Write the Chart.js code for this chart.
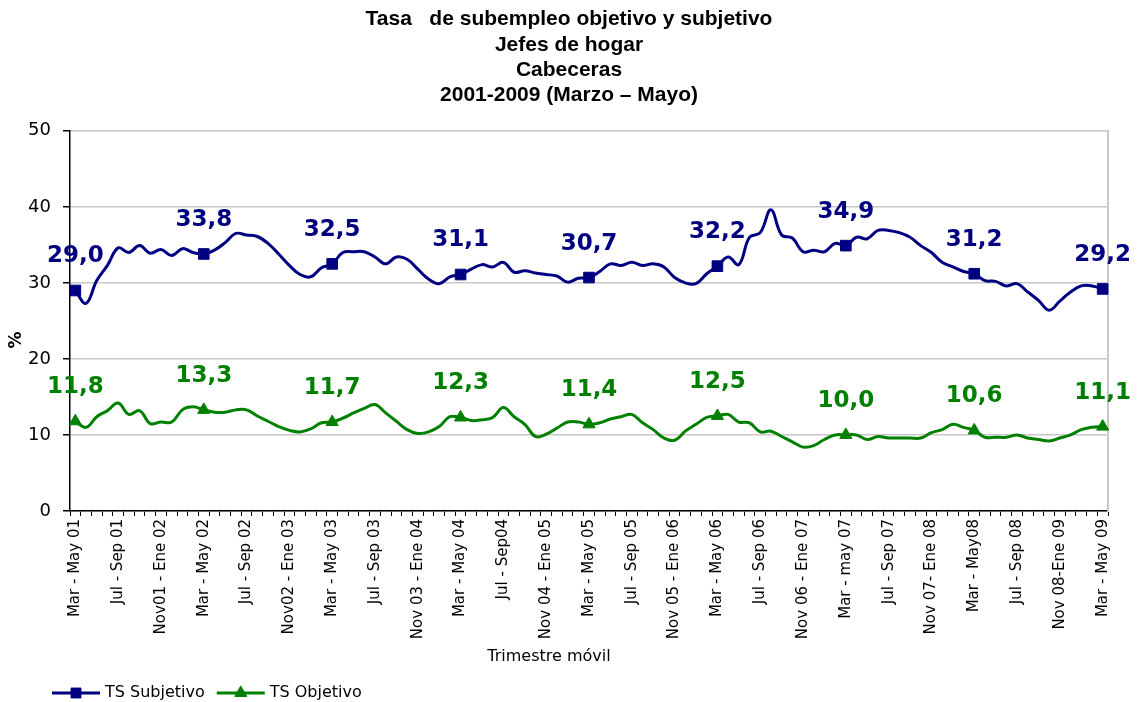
<!DOCTYPE html>
<html>
<head>
<meta charset="utf-8">
<script src="https://cdn.jsdelivr.net/npm/chart.js@4.4.1/dist/chart.umd.min.js"></script>
<style>
  html, body { margin: 0; padding: 0; background: #fff; }
</style>
</head>
<body>
<canvas id="grafico" width="1138" height="702"></canvas>
<script>
// etiquetas visibles del eje X (una cada 4 trimestres móviles)
var tickLabels = [
  'Mar - May 01', 'Jul - Sep 01', 'Nov01 - Ene 02',
  'Mar - May 02', 'Jul - Sep 02', 'Nov02 - Ene 03',
  'Mar - May 03', 'Jul - Sep 03', 'Nov 03 - Ene 04',
  'Mar - May 04', 'Jul - Sep04', 'Nov 04 - Ene 05',
  'Mar - May 05', 'Jul - Sep 05', 'Nov 05 - Ene 06',
  'Mar - May 06', 'Jul - Sep 06', 'Nov 06 - Ene 07',
  'Mar - may 07', 'Jul - Sep 07', 'Nov 07- Ene 08',
  'Mar - May08', 'Jul - Sep 08', 'Nov 08-Ene 09',
  'Mar - May 09'
];

// meses para nombrar los trimestres móviles intermedios
var meses = ['Ene', 'Feb', 'Mar', 'Abr', 'May', 'Jun', 'Jul', 'Ago', 'Sep', 'Oct', 'Nov', 'Dic'];

// TS Subjetivo (%), Mar-May 01 ... Mar-May 09
var subjetivo = [
  29.0, 27.3, 30.3, 32.3, 34.6, 34.0, 34.9, 33.9, 34.4, 33.6, 34.5, 34.0,
  33.8, 34.3, 35.3, 36.5, 36.3, 36.1, 35.2, 33.8, 32.3, 31.1, 30.8, 32.0,
  32.5, 34.0, 34.1, 34.1, 33.4, 32.5, 33.4, 33.1, 31.8, 30.5, 29.9, 30.8,
  31.1, 31.8, 32.4, 32.1, 32.7, 31.4, 31.6, 31.3, 31.1, 30.9, 30.1, 30.6,
  30.7, 31.5, 32.5, 32.3, 32.7, 32.3, 32.5, 32.1, 30.7, 30.0, 29.9, 31.2,
  32.2, 33.4, 32.4, 36.0, 36.6, 39.6, 36.3, 35.9, 34.1, 34.3, 34.1, 35.2,
  34.9, 36.0, 35.8, 36.9, 36.9, 36.6, 36.0, 34.9, 34.0, 32.7, 32.1, 31.5,
  31.2, 30.3, 30.2, 29.6, 29.9, 28.8, 27.7, 26.4, 27.6, 28.8, 29.6, 29.6,
  29.2
];

// TS Objetivo (%)
var objetivo = [
  11.8, 11.0, 12.4, 13.2, 14.2, 12.7, 13.2, 11.5, 11.7, 11.7, 13.3, 13.7,
  13.3, 13.0, 13.0, 13.3, 13.3, 12.5, 11.8, 11.1, 10.6, 10.4, 10.8, 11.6,
  11.7, 12.2, 12.9, 13.5, 14.0, 12.9, 11.8, 10.7, 10.2, 10.4, 11.1, 12.4,
  12.3, 11.9, 12.0, 12.3, 13.6, 12.4, 11.4, 9.8, 10.1, 10.9, 11.7, 11.7,
  11.4, 11.6, 12.1, 12.4, 12.7, 11.6, 10.7, 9.6, 9.3, 10.5, 11.4, 12.3,
  12.5, 12.7, 11.7, 11.6, 10.4, 10.5, 9.8, 9.1, 8.4, 8.6, 9.4, 10.0,
  10.0, 10.0, 9.4, 9.8, 9.6, 9.6, 9.6, 9.6, 10.3, 10.7, 11.4, 11.0,
  10.6, 9.7, 9.7, 9.7, 10.0, 9.6, 9.4, 9.2, 9.6, 10.0, 10.7, 11.0,
  11.1
];

// nombres de todos los trimestres móviles
var categorias = [];
for (var i = 0; i < subjetivo.length; i++) {
  if (i % 4 === 0) {
    categorias.push(tickLabels[i / 4]);
  } else {
    var m = (2 + i) % 12;
    var anio = Math.floor((2 + i + 2) / 12) + 1;
    categorias.push(meses[m] + ' - ' + meses[(m + 2) % 12] + ' ' + String(anio).padStart(2, '0'));
  }
}

var AZUL = '#000080';
var VERDE = '#008000';

// solo los trimestres Mar-May llevan marcador y etiqueta
function esMarzoMayo(i) { return i % 12 === 0; }

var etiquetasPlugin = {
  id: 'etiquetas',
  afterDatasetsDraw: function (chart) {
    var ctx = chart.ctx;
    ctx.save();
    ctx.font = 'bold 23px "DejaVu Sans"';
    ctx.textAlign = 'center';
    ctx.textBaseline = 'middle';
    chart.data.datasets.forEach(function (ds, di) {
      var meta = chart.getDatasetMeta(di);
      ctx.fillStyle = ds.borderColor;
      meta.data.forEach(function (pt, i) {
        if (!esMarzoMayo(i)) return;
        ctx.fillText(ds.data[i].toFixed(1).replace('.', ','), pt.x, pt.y - 34);
      });
    });
    ctx.restore();
  },
  afterDraw: function (chart) {
    var ctx = chart.ctx;
    ctx.save();
    ctx.fillStyle = '#000';

    // título del eje Y
    ctx.font = 'bold 17px "DejaVu Sans"';
    ctx.textAlign = 'center';
    ctx.textBaseline = 'middle';
    ctx.translate(17, 340);
    ctx.rotate(-Math.PI / 2);
    ctx.fillText('%', 0, 0);
    ctx.setTransform(1, 0, 0, 1, 0, 0);

    // título del eje X
    ctx.font = '16px "DejaVu Sans"';
    ctx.fillText('Trimestre móvil', 549, 657);

    // leyenda con línea y marcador
    var x = 52, y = 693;
    ctx.textAlign = 'left';
    chart.data.datasets.forEach(function (ds) {
      ctx.strokeStyle = ds.borderColor;
      ctx.fillStyle = ds.borderColor;
      ctx.lineWidth = 3;
      ctx.beginPath();
      ctx.moveTo(x, y);
      ctx.lineTo(x + 48, y);
      ctx.stroke();
      ctx.lineWidth = 1;
      Chart.helpers.drawPoint(ctx, {
        pointStyle: ds.pointStyle, radius: 7, rotation: 0, borderWidth: 1
      }, x + 24, y);
      ctx.fillStyle = '#000';
      ctx.fillText(ds.label, x + 53, y);
      x += 53 + ctx.measureText(ds.label).width + 12;
    });
    ctx.restore();
  }
};

Chart.defaults.font.family = '"DejaVu Sans"';
Chart.defaults.color = '#000';

new Chart(document.getElementById('grafico'), {
  type: 'line',
  data: {
    labels: categorias,
    datasets: [
      {
        label: 'TS Subjetivo',
        data: subjetivo,
        borderColor: AZUL,
        backgroundColor: AZUL,
        borderWidth: 3,
        tension: 0.4,
        pointStyle: 'rect',
        pointRadius: function (c) { return esMarzoMayo(c.dataIndex) ? 7.5 : 0; },
        pointBorderWidth: 1,
        pointBackgroundColor: AZUL,
        pointBorderColor: AZUL,
        fill: false
      },
      {
        label: 'TS Objetivo',
        data: objetivo,
        borderColor: VERDE,
        backgroundColor: VERDE,
        borderWidth: 3,
        tension: 0.4,
        pointStyle: 'triangle',
        pointRadius: function (c) { return esMarzoMayo(c.dataIndex) ? 7 : 0; },
        pointBorderWidth: 1,
        pointBackgroundColor: VERDE,
        pointBorderColor: VERDE,
        fill: false
      }
    ]
  },
  options: {
    responsive: false,
    devicePixelRatio: 1,
    animation: false,
    layout: { padding: { left: 0, right: 0, top: 0, bottom: 41 } },
    plugins: {
      legend: { display: false },
      tooltip: { enabled: false },
      title: {
        display: true,
        text: [
          'Tasa   de subempleo objetivo y subjetivo',
          'Jefes de hogar',
          'Cabeceras',
          '2001-2009 (Marzo – Mayo)'
        ],
        color: '#000',
        font: { family: '"Liberation Sans"', size: 21, weight: 'bold', lineHeight: 1.2 },
        padding: { top: 7, bottom: 23 }
      }
    },
    scales: {
      x: {
        type: 'category',
        offset: true,
        grid: {
          offset: true,
          drawOnChartArea: false,
          drawTicks: true,
          tickLength: 5,
          color: '#000'
        },
        border: { color: '#000', width: 1.5 },
        ticks: {
          autoSkip: false,
          maxRotation: 90,
          minRotation: 90,
          padding: 3,
          color: '#000',
          font: { size: 15 },
          callback: function (v, i) { return i % 4 === 0 ? tickLabels[i / 4] : ''; }
        },
        afterFit: function (s) { s.height = 150; }
      },
      y: {
        min: 0,
        max: 50,
        ticks: { stepSize: 10, padding: 12, color: '#000', font: { size: 18 } },
        grid: { color: '#c8c8c8', lineWidth: 1.5, tickColor: '#000', tickLength: 7 },
        border: { color: '#000', width: 1.5 },
        afterFit: function (s) { s.width = 70; }
      },
      y2: {
        position: 'right',
        display: true,
        min: 0,
        max: 50,
        grid: { display: false },
        ticks: { display: false },
        border: { display: true, color: '#c8c8c8', width: 2 },
        afterFit: function (s) { s.width = 30; }
      }
    }
  },
  plugins: [etiquetasPlugin]
});
</script>
</body>
</html>
